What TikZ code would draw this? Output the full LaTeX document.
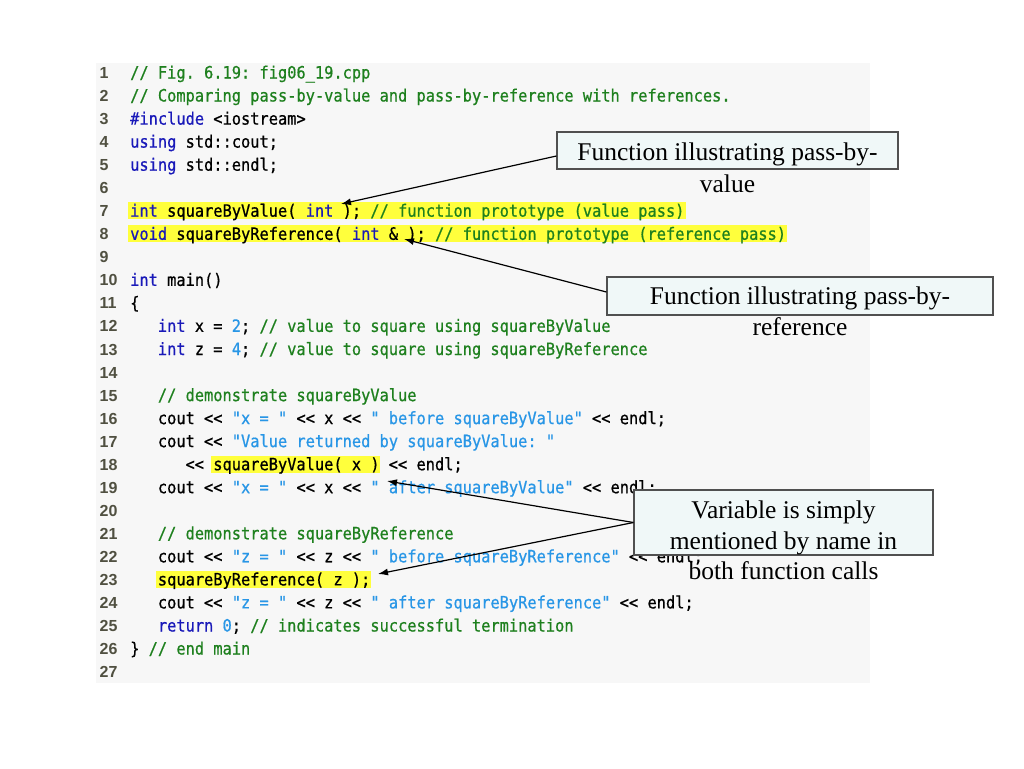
\documentclass[tikz,border=0pt]{standalone}
\usepackage{fontspec}
\setmainfont{Liberation Serif}
\setmonofont{DejaVu Sans Mono}[FakeStretch=0.9026,FakeBold=0.7]
\newfontfamily\numfont{Liberation Sans}
\usetikzlibrary{arrows.meta}
\definecolor{kwc}{RGB}{25,25,185}
\definecolor{cmc}{RGB}{30,128,30}
\definecolor{stc}{RGB}{40,150,230}
\definecolor{lnc}{RGB}{80,80,65}
\definecolor{panelc}{RGB}{247,247,247}
\definecolor{hlc}{RGB}{255,255,60}
\definecolor{boxfill}{RGB}{240,248,248}
\definecolor{boxline}{RGB}{80,80,80}
\newcommand{\ckw}[1]{\textcolor{kwc}{#1}}
\newcommand{\ccm}[1]{\textcolor{cmc}{#1}}
\newcommand{\cstr}[1]{\textcolor{stc}{#1}}
\begin{document}
\begin{tikzpicture}[x=1pt,y=-1pt,
  code/.style={anchor=base west, inner sep=0pt, font=\ttfamily\fontsize{17}{20}\selectfont},
  lnum/.style={anchor=base west, inner sep=0pt, text=lnc, font=\numfont\bfseries\fontsize{16}{18}\selectfont},
  callbox/.style={draw=boxline, fill=boxfill, line width=1.2pt, inner sep=0pt},
  ctext/.style={anchor=base, inner sep=0pt, font=\fontsize{25.5}{30}\selectfont},
  hl/.style={fill=hlc, draw=none},
  callarrow/.style={draw=black, line width=1.2pt, -{Latex[length=10pt,width=7pt]}}]
\useasboundingbox (0,0) rectangle (1024,768);
\fill[white] (0,0) rectangle (1024,768);
% code panel
\fill[panelc] (96,63) rectangle (870,683);
% highlights
\path[hl] (128,202.2) rectangle (686,219.2);
\path[hl] (128,225.3) rectangle (787,242.3);
\path[hl] (211,455.7) rectangle (380,472.7);
\path[hl] (156,570.9) rectangle (371,587.9);
% line numbers
\foreach \n/\b in {1/78.5,2/101.5,3/124.6,4/147.6,5/170.7,6/193.7,7/216.7,8/239.8,9/262.8,
  10/285.9,11/308.9,12/331.9,13/355.0,14/378.0,15/401.1,16/424.1,17/447.1,18/470.2,19/493.2,
  20/516.3,21/539.3,22/562.3,23/585.4,24/608.4,25/631.5,26/654.5,27/677.5}
  \node[lnum] (n\n) at (99.5,\b) {\n};
% code lines
\node[code] (c1) at (130,78.5) {\ccm{// Fig. 6.19: fig06\_19.cpp}};
\node[code] (c2) at (130,101.5) {\ccm{// Comparing pass-by-value and pass-by-reference with references.}};
\node[code] (c3) at (130,124.6) {\ckw{\#include} <iostream>};
\node[code] (c4) at (130,147.6) {\ckw{using} std::cout;};
\node[code] (c5) at (130,170.7) {\ckw{using} std::endl;};
\node[code] (c7) at (130,216.7) {\ckw{int} squareByValue( \ckw{int} ); \ccm{// function prototype (value pass)}};
\node[code] (c8) at (130,239.8) {\ckw{void} squareByReference( \ckw{int} \& ); \ccm{// function prototype (reference pass)}};
\node[code] (c10) at (130,285.9) {\ckw{int} main()};
\node[code] (c11) at (130,308.9) {\{};
\node[code] (c12) at (157.7,331.9) {\ckw{int} x = \cstr{2}; \ccm{// value to square using squareByValue}};
\node[code] (c13) at (157.7,355.0) {\ckw{int} z = \cstr{4}; \ccm{// value to square using squareByReference}};
\node[code] (c15) at (157.7,401.1) {\ccm{// demonstrate squareByValue}};
\node[code] (c16) at (157.7,424.1) {cout << \cstr{"x = "} << x << \cstr{" before squareByValue"} << endl;};
\node[code] (c17) at (157.7,447.1) {cout << \cstr{"Value returned by squareByValue: "}};
\node[code] (c18) at (185.4,470.2) {<< squareByValue( x ) << endl;};
\node[code] (c19) at (157.7,493.2) {cout << \cstr{"x = "} << x << \cstr{" after squareByValue"} << endl;};
\node[code] (c21) at (157.7,539.3) {\ccm{// demonstrate squareByReference}};
\node[code] (c22) at (157.7,562.3) {cout << \cstr{"z = "} << z << \cstr{" before squareByReference"} << endl;};
\node[code] (c23) at (157.7,585.4) {squareByReference( z );};
\node[code] (c24) at (157.7,608.4) {cout << \cstr{"z = "} << z << \cstr{" after squareByReference"} << endl;};
\node[code] (c25) at (157.7,631.5) {\ckw{return} \cstr{0}; \ccm{// indicates successful termination}};
\node[code] (c26) at (130,654.5) {\} \ccm{// end main}};
% arrow targets
\coordinate (p1) at (341,204);
\coordinate (p2) at (404,239);
\coordinate (p3) at (387,481);
\coordinate (p4) at (378,574);
% callout boxes
\node[callbox, minimum width=341pt, minimum height=37pt] (b1) at (727.5,150.5) {};
\node[callbox, minimum width=386pt, minimum height=38pt] (b2) at (800,296) {};
\node[callbox, minimum width=299pt, minimum height=65pt] (b3) at (783.5,522.5) {};
\node[ctext] (t1a) at (727.5,160) {Function illustrating pass-by-};
\node[ctext] (t1b) at (727.5,192) {value};
\node[ctext] (t2a) at (800,304) {Function illustrating pass-by-};
\node[ctext] (t2b) at (800,335) {reference};
\node[ctext] (t3a) at (783.5,518.5) {Variable is simply};
\node[ctext] (t3b) at (783.5,549) {mentioned by name in};
\node[ctext] (t3c) at (783.5,579.5) {both function calls};
% arrows
\draw[callarrow] ([yshift=-5.5pt]b1.west) -- (p1);
\draw[callarrow] ([yshift=4pt]b2.west) -- (p2);
\draw[callarrow] (b3.west) -- (p3);
\draw[callarrow] (b3.west) -- (p4);
\end{tikzpicture}
\end{document}
